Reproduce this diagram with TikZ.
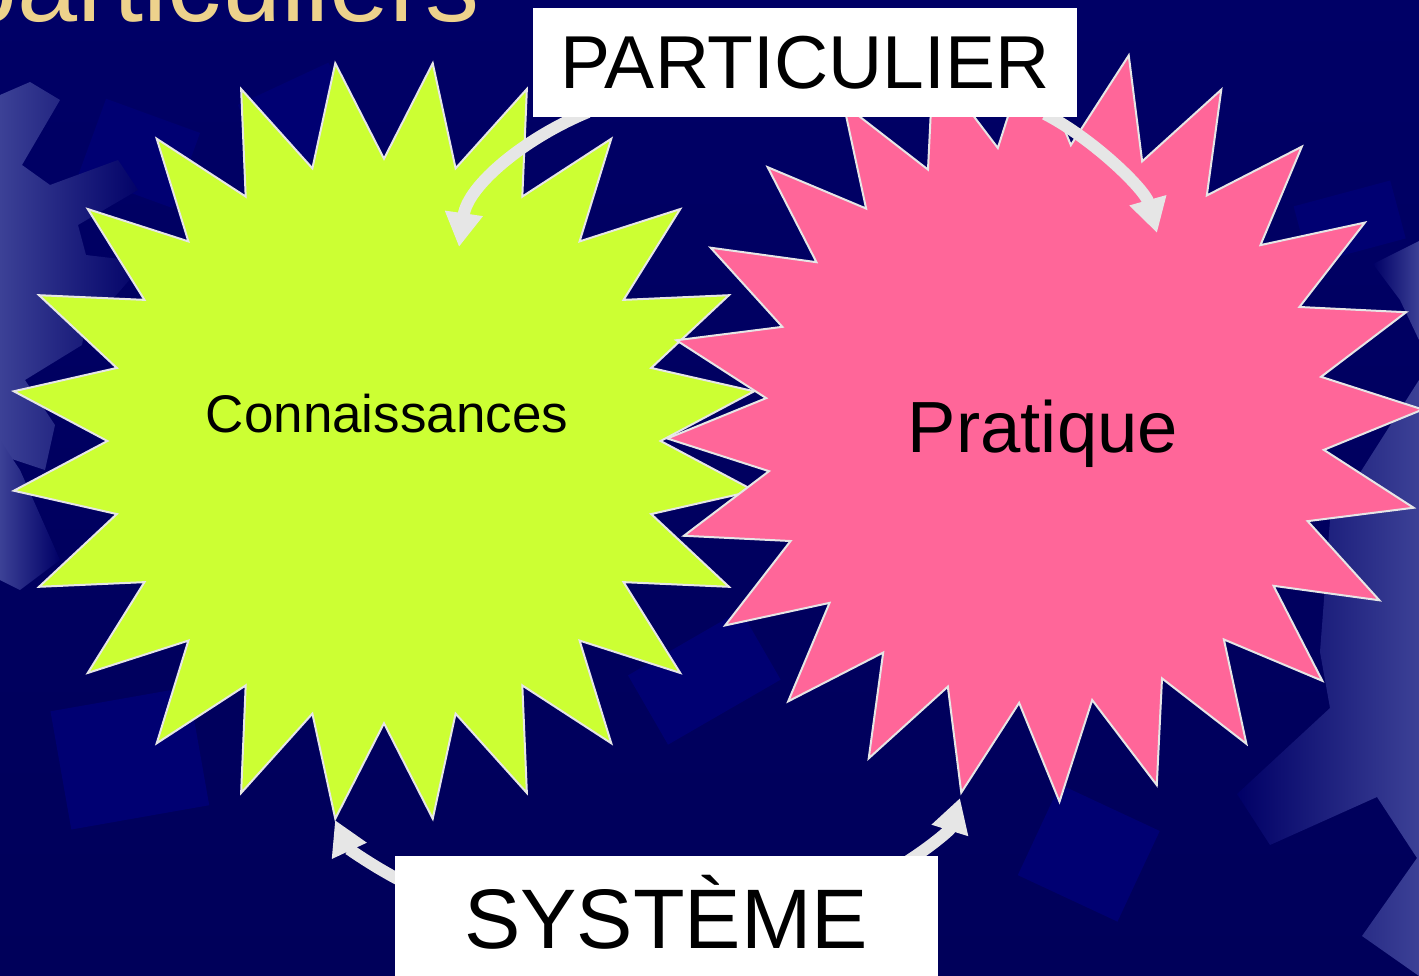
\documentclass[tikz,border=0pt]{standalone}
\usepackage{fontspec}
\setmainfont{Liberation Sans}
\usetikzlibrary{shapes.geometric,arrows.meta}
\definecolor{navy}{HTML}{000066}
\definecolor{navydark}{HTML}{00005A}
\definecolor{navylite}{HTML}{000072}
\definecolor{edgeblue}{HTML}{3C4196}
\definecolor{kcol}{HTML}{CCFF33}
\definecolor{pcol}{HTML}{FF6699}
\definecolor{arrowgrey}{HTML}{E6E6E6}
\definecolor{titletan}{HTML}{EDD28C}
\begin{document}
\begin{tikzpicture}[x=1pt,y=-1pt,
  burst/.style={star, star points=24, star point ratio=1.35, draw=arrowgrey, line width=2pt, inner sep=0pt, outer sep=0pt, transform shape},
  labelbox/.style={fill=white, inner sep=0pt, outer sep=0pt},
  cyc/.style={draw=arrowgrey, line width=12pt, -{Triangle[length=34pt,width=36pt]}},
  deco/.style={fill=navylite}
]
\useasboundingbox (0,0) rectangle (1419,976);
% background
\shade[top color=navy, bottom color=navydark] (0,0) rectangle (1419,976);
\fill[deco, rotate around={30:(700,680)}] (640,640) rectangle (770,720);
\fill[deco, rotate around={-20:(130,150)}] (90,110) rectangle (190,190);
\fill[deco, rotate around={25:(300,120)}] (250,80) rectangle (350,160);
\fill[deco, rotate around={15:(1340,225)}] (1300,195) rectangle (1400,255);
\fill[deco, rotate around={-25:(1080,860)}] (1030,800) rectangle (1140,900);
\fill[deco, rotate around={10:(120,760)}] (60,700) rectangle (200,820);
% left light decoration
\shade[left color=edgeblue, right color=navy]
  (0,95) -- (30,82) -- (60,100) -- (22,165) -- (50,185) -- (118,160) -- (138,190)
  -- (78,225) -- (86,255) -- (145,262) -- (112,300) -- (88,312) -- (82,345)
  -- (25,380) -- (55,425) -- (45,470) -- (0,455) -- cycle;
\shade[left color=edgeblue, right color=navy]
  (0,440) -- (20,470) -- (60,560) -- (20,590) -- (0,580) -- cycle;
% right light decoration
\shade[left color=navy, right color=edgeblue]
  (1373,264) -- (1419,241) -- (1419,340) -- (1400,300) -- cycle;
\shade[left color=navy, right color=edgeblue]
  (1419,380) -- (1419,976) -- (1362,936) -- (1417,858) -- (1377,797) -- (1270,845)
  -- (1237,794) -- (1330,708) -- (1320,652) -- (1330,520) -- cycle;
% title
\node[font=\fontsize{108}{110}\selectfont, text=titletan, anchor=base west, inner sep=0pt] (title) at (-43,22) {particuliers};
% bursts
\node[burst, fill=kcol, minimum size=762pt, xscale=0.98, shape border rotate=7.5] (K) at (384,441) {};
\node[burst, fill=pcol, minimum size=756pt, shape border rotate=2.2] (P) at (1045,424) {};
\node[font=\fontsize{53}{60}\selectfont, anchor=base, inner sep=0pt] (Ktxt) at (387,432) {Connaissances};
\node[font=\fontsize{72.5}{80}\selectfont, anchor=base, inner sep=0pt] (Ptxt) at (1043,452) {Pratique};
% arrows
\coordinate (a1s) at (588,112);
\coordinate (a1e) at (459,247);
\coordinate (a2s) at (1045,114);
\coordinate (a2e) at (1157,233);
\coordinate (a3s) at (420,890);
\coordinate (a3e) at (335,820);
\coordinate (a4s) at (890,872);
\coordinate (a4e) at (960,798);
\draw[cyc] (a1s) .. controls (525,138) and (468,185) .. (a1e);
\draw[cyc] (a2s) .. controls (1095,140) and (1145,190) .. (a2e);
\draw[cyc] (a3s) .. controls (380,872) and (348,848) .. (a3e);
\draw[cyc] (a4s) .. controls (925,852) and (950,830) .. (a4e);
% boxes
\node[labelbox, minimum width=544pt, minimum height=109pt, font=\fontsize{75}{80}\selectfont] (part) at (805,63) {PARTICULIER};
\node[labelbox, minimum width=543pt, minimum height=140pt, anchor=north west] (sys) at (395,856) {};
\node[font=\fontsize{84.5}{90}\selectfont, anchor=base, inner sep=0pt] (systxt) at (666,948) {SYSTÈME};
\end{tikzpicture}
\end{document}
